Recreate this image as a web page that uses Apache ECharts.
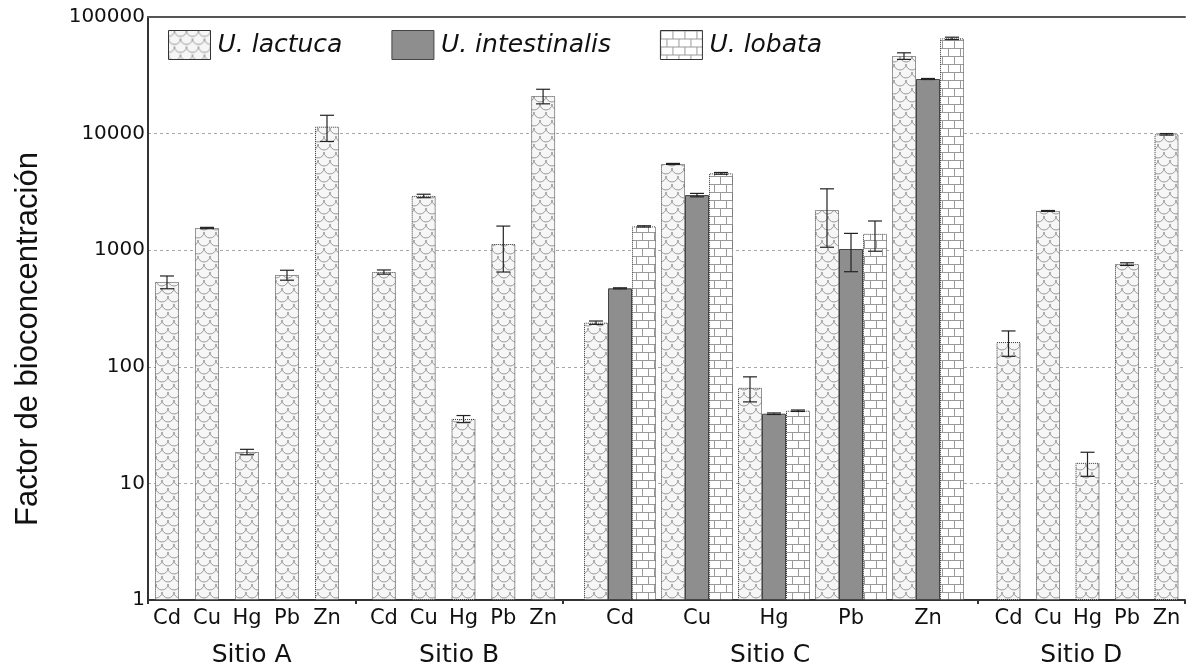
<!DOCTYPE html>
<html>
<head>
<meta charset="utf-8">
<script src="https://cdn.jsdelivr.net/npm/echarts@6/dist/echarts.min.js"></script>
<style>html,body{margin:0;padding:0;background:#fff}#chart{width:1188px;height:670px}</style>
</head>
<body>
<div id="chart"></div>
<script>
// ---- data ----
const metals = ['Cd', 'Cu', 'Hg', 'Pb', 'Zn'];
const sites = ['Sitio A', 'Sitio B', 'Sitio C', 'Sitio D'];
const siteSpans = [2, 2, 4, 2];
const speciesNames = ['U. lactuca', 'U. intestinalis', 'U. lobata'];
const yTitle = 'Factor de bioconcentración';

const lactucaA = [534, 1550, 18.6, 613, 11460];
const lactucaAErr = [67, 20, 1, 60, 2900];
const lactucaB = [650, 2920, 35.7, 1130, 21000];
const lactucaBErr = [27, 100, 2.5, 480, 3000];
const lactucaC = [239, 5490, 66, 2210, 46300];
const lactucaCErr = [8, 60, 16, 1150, 3000];
const intestinalisC = [471, 2970, 39.6, 1024, 29400];
const intestinalisCErr = [5, 100, 0.6, 370, 300];
const lobataC = [1600, 4560, 42, 1380, 65600];
const lobataCErr = [20, 80, 0.6, 400, 1500];
const lactucaD = [163, 2170, 15, 760, 9860];
const lactucaDErr = [40, 20, 3.5, 20, 150];

// ---- patterns ----
function scalePattern() {
  const c = document.createElement('canvas');
  c.width = 12; c.height = 16;
  const g = c.getContext('2d');
  g.fillStyle = '#f6f6f6'; g.fillRect(0, 0, 12, 16);
  g.strokeStyle = '#9a9a9a'; g.lineWidth = 1;
  [[0, 0], [12, 0], [6, 8], [0, 16], [12, 16], [-6, 8], [18, 8]].forEach(([cx, cy]) => {
    g.beginPath(); g.arc(cx, cy, 6, 0, Math.PI); g.stroke();
  });
  return c;
}
function brickPattern() {
  const c = document.createElement('canvas');
  c.width = 12; c.height = 16;
  const g = c.getContext('2d');
  g.fillStyle = '#ffffff'; g.fillRect(0, 0, 12, 16);
  g.strokeStyle = '#9a9a9a'; g.lineWidth = 1;
  g.beginPath();
  g.moveTo(0, 0.5); g.lineTo(12, 0.5);
  g.moveTo(0, 8.5); g.lineTo(12, 8.5);
  g.moveTo(0.5, 0); g.lineTo(0.5, 8);
  g.moveTo(6.5, 8); g.lineTo(6.5, 16);
  g.stroke();
  return c;
}
const lactucaStyle = { color: { image: scalePattern(), repeat: 'repeat' }, borderColor: '#333', borderWidth: 1, borderType: 'dotted' };
const intestStyle = { color: '#8e8e8e', borderColor: '#444', borderWidth: 1 };
const lobataStyle = { color: { image: brickPattern(), repeat: 'repeat' }, borderColor: '#333', borderWidth: 1, borderType: 'dotted' };

const BAR_W = 24;
const TOP = 17, BOTTOM = 70;
const FONT = 'DejaVu Sans';

// site axis: slots built from spans, label in middle of each span
const siteSlots = [];
const siteTickIdx = [0];
const siteLabelIdx = [];
let pos = 0;
sites.forEach((s, i) => {
  siteLabelIdx.push(pos + siteSpans[i] / 2);
  pos += siteSpans[i];
  siteTickIdx.push(pos);
});
for (let k = 0; k <= pos; k++) {
  const li = siteLabelIdx.indexOf(k);
  siteSlots.push(li >= 0 ? sites[li] : ' '.repeat(k + 1));
}

const metalGrids = [
  { left: 147, width: 200 },
  { left: 364, width: 199 },
  { left: 581.5, width: 385 },
  { left: 988.75, width: 197.5 }
];

const grids = [{ left: 148, right: 0, top: TOP, bottom: BOTTOM }]
  .concat(metalGrids.map(g => ({ left: g.left, width: g.width, top: TOP, bottom: BOTTOM })));

const xAxes = [
  {
    type: 'category', gridIndex: 0, data: siteSlots, boundaryGap: false,
    axisLine: { show: true, lineStyle: { color: '#333', width: 2 } },
    axisTick: { show: true, length: 4, interval: (i) => siteTickIdx.indexOf(i) >= 0, lineStyle: { color: '#333', width: 2 } },
    axisLabel: { interval: 0, margin: 43, fontSize: 25, color: '#111', fontFamily: FONT,
      formatter: v => v.trim() },
    splitLine: { show: false }
  },
  {
    type: 'value', gridIndex: 0, position: 'top', min: 0, max: 1,
    axisLine: { show: true, lineStyle: { color: '#555', width: 2 } },
    axisTick: { show: false }, axisLabel: { show: false }, splitLine: { show: false }
  }
].concat(metalGrids.map((g, i) => ({
  type: 'category', gridIndex: i + 1, data: metals,
  axisLine: { show: false }, axisTick: { show: false },
  axisLabel: { margin: 8, fontSize: 21, color: '#111', fontFamily: FONT, interval: 0 }
})));

const logAxis = { type: 'log', logBase: 10, min: 1, max: 100000 };
const yAxes = [Object.assign({}, logAxis, {
  gridIndex: 0,
  axisLine: { show: true, lineStyle: { color: '#333', width: 2 } },
  axisTick: { show: false },
  axisLabel: { margin: 3, fontSize: 20, color: '#111', fontFamily: FONT, formatter: v => String(Math.round(v)) },
  splitLine: { show: true, lineStyle: { color: '#a8a8a8', type: [3, 3], width: 1 } }
})].concat(metalGrids.map((g, i) => Object.assign({}, logAxis, { gridIndex: i + 1, show: false })));

function barSeries(name, gi, values, style) {
  return {
    type: 'bar', name, xAxisIndex: gi + 2, yAxisIndex: gi + 1,
    data: values, barWidth: BAR_W, barGap: '0%', itemStyle: style, z: 2
  };
}
function errSeries(gi, values, errs, offset) {
  return {
    type: 'custom', xAxisIndex: gi + 2, yAxisIndex: gi + 1, z: 5, silent: true,
    data: values.map((v, i) => [i, v, errs[i]]),
    renderItem: (params, api) => {
      const i = api.value(0), v = api.value(1), e = api.value(2);
      const hi = api.coord([i, v + e]);
      const lo = api.coord([i, Math.max(v - e, 1)]);
      const x = hi[0] + offset;
      const cw = 7;
      const st = { stroke: '#222', lineWidth: 1.2 };
      return { type: 'group', children: [
        { type: 'line', shape: { x1: x, y1: hi[1], x2: x, y2: lo[1] }, style: st },
        { type: 'line', shape: { x1: x - cw, y1: hi[1], x2: x + cw, y2: hi[1] }, style: st },
        { type: 'line', shape: { x1: x - cw, y1: lo[1], x2: x + cw, y2: lo[1] }, style: st }
      ]};
    }
  };
}

const series = [
  barSeries(speciesNames[0], 0, lactucaA, lactucaStyle),
  barSeries(speciesNames[0], 1, lactucaB, lactucaStyle),
  barSeries(speciesNames[0], 2, lactucaC, lactucaStyle),
  barSeries(speciesNames[1], 2, intestinalisC, intestStyle),
  barSeries(speciesNames[2], 2, lobataC, lobataStyle),
  barSeries(speciesNames[0], 3, lactucaD, lactucaStyle),
  errSeries(0, lactucaA, lactucaAErr, 0),
  errSeries(1, lactucaB, lactucaBErr, 0),
  errSeries(2, lactucaC, lactucaCErr, -BAR_W),
  errSeries(2, intestinalisC, intestinalisCErr, 0),
  errSeries(2, lobataC, lobataCErr, BAR_W),
  errSeries(3, lactucaD, lactucaDErr, 0)
];

const chart = echarts.init(document.getElementById('chart'), null, { renderer: 'canvas' });
chart.setOption({
  animation: false,
  backgroundColor: '#fff',
  legend: {
    data: speciesNames, left: 163, top: 25, itemWidth: 42, itemHeight: 29, itemGap: 49,
    icon: 'rect',
    itemStyle: { borderWidth: 1 },
    textStyle: { fontSize: 25, fontStyle: 'italic', color: '#111', fontFamily: FONT, padding: [0, 0, 0, 2] },
    selectedMode: false
  },
  graphic: [{
    type: 'text', x: 28, y: 339, rotation: Math.PI / 2,
    style: { text: yTitle, fontSize: 31, fill: '#111', fontFamily: 'Liberation Sans', textAlign: 'center', textVerticalAlign: 'middle' }
  }],
  grid: grids,
  xAxis: xAxes,
  yAxis: yAxes,
  series
});
</script>
</body>
</html>
